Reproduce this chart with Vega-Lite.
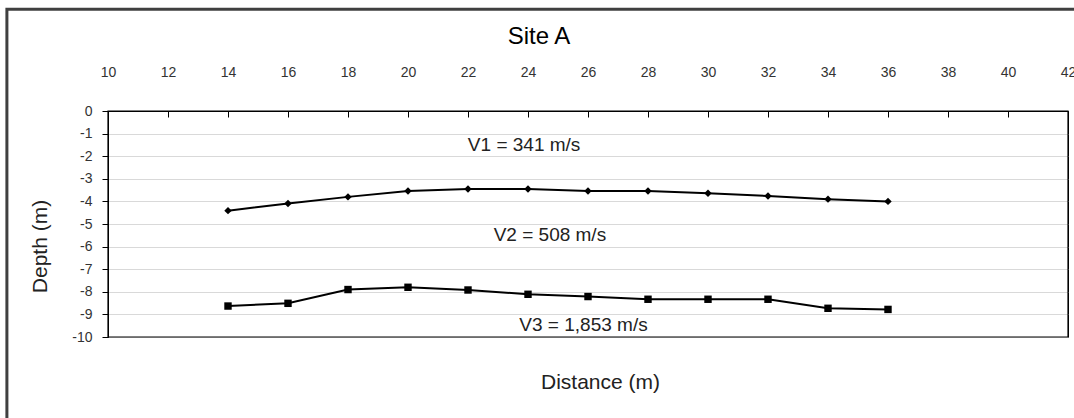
{
  "$schema": "https://vega.github.io/schema/vega-lite/v6.json",
  "width": 960,
  "height": 226,
  "autosize": {"type": "none"},
  "padding": {"left": 108, "top": 111, "right": 6, "bottom": 81},
  "background": "white",
  "config": {
    "font": "Liberation Sans",
    "view": {"stroke": "black", "strokeWidth": 1}
  },
  "title": {
    "text": "Site A",
    "fontSize": 24,
    "fontWeight": "normal",
    "color": "black",
    "anchor": "middle",
    "frame": "group",
    "dx": -49,
    "offset": -41
  },
  "datasets": {
    "lines": [
      {"dist": 14, "depth": -4.41, "series": "V1-V2"},
      {"dist": 16, "depth": -4.09, "series": "V1-V2"},
      {"dist": 18, "depth": -3.8, "series": "V1-V2"},
      {"dist": 20, "depth": -3.54, "series": "V1-V2"},
      {"dist": 22, "depth": -3.45, "series": "V1-V2"},
      {"dist": 24, "depth": -3.45, "series": "V1-V2"},
      {"dist": 26, "depth": -3.54, "series": "V1-V2"},
      {"dist": 28, "depth": -3.54, "series": "V1-V2"},
      {"dist": 30, "depth": -3.64, "series": "V1-V2"},
      {"dist": 32, "depth": -3.76, "series": "V1-V2"},
      {"dist": 34, "depth": -3.9, "series": "V1-V2"},
      {"dist": 36, "depth": -4.0, "series": "V1-V2"},
      {"dist": 14, "depth": -8.63, "series": "V2-V3"},
      {"dist": 16, "depth": -8.51, "series": "V2-V3"},
      {"dist": 18, "depth": -7.9, "series": "V2-V3"},
      {"dist": 20, "depth": -7.8, "series": "V2-V3"},
      {"dist": 22, "depth": -7.92, "series": "V2-V3"},
      {"dist": 24, "depth": -8.11, "series": "V2-V3"},
      {"dist": 26, "depth": -8.21, "series": "V2-V3"},
      {"dist": 28, "depth": -8.33, "series": "V2-V3"},
      {"dist": 30, "depth": -8.33, "series": "V2-V3"},
      {"dist": 32, "depth": -8.33, "series": "V2-V3"},
      {"dist": 34, "depth": -8.73, "series": "V2-V3"},
      {"dist": 36, "depth": -8.78, "series": "V2-V3"}
    ],
    "labels": [
      {"dist": 23.87, "depth": -1.5, "label": "V1 = 341 m/s"},
      {"dist": 24.73, "depth": -5.49, "label": "V2 = 508 m/s"},
      {"dist": 25.85, "depth": -9.47, "label": "V3 = 1,853 m/s"}
    ]
  },
  "layer": [
    {
      "data": {"values": [{}]},
      "mark": {"type": "rect", "fill": null, "fillOpacity": 0, "stroke": "#404040", "strokeWidth": 3, "clip": false},
      "encoding": {
        "x": {"datum": 6.63, "type": "quantitative", "axis": null},
        "x2": {"datum": 45},
        "y": {"datum": 4.5, "type": "quantitative", "axis": null},
        "y2": {"datum": -15}
      }
    },
    {
      "data": {"values": [{}]},
      "mark": {"type": "rect", "fill": null, "fillOpacity": 0, "stroke": "black", "strokeWidth": 1.2, "clip": false},
      "encoding": {
        "x": {"datum": 10, "type": "quantitative", "axis": null},
        "x2": {"datum": 42},
        "y": {"datum": 0, "type": "quantitative", "axis": null},
        "y2": {"datum": -10}
      }
    },
    {
      "data": {"name": "lines"},
      "mark": {"type": "line", "color": "black", "strokeWidth": 2},
      "encoding": {
        "x": {
          "field": "dist",
          "type": "quantitative",
          "scale": {"domain": [10, 42], "nice": false, "zero": false},
          "axis": {
            "orient": "top",
            "values": [10, 12, 14, 16, 18, 20, 22, 24, 26, 28, 30, 32, 34, 36, 38, 40, 42],
            "tickSize": -6,
            "tickColor": "black",
            "domainColor": "black",
            "labelPadding": 38,
            "labelFontSize": 14,
            "labelColor": "#333333",
            "labelFlush": false,
            "grid": false,
            "title": null
          }
        },
        "y": {
          "field": "depth",
          "type": "quantitative",
          "scale": {"domain": [-10, 0], "nice": false, "zero": false},
          "axis": {
            "values": [-10, -9, -8, -7, -6, -5, -4, -3, -2, -1, 0],
            "labelExpr": "datum.value < 0 ? '-' + abs(datum.value) : '' + datum.value",
            "tickSize": 6,
            "tickColor": "black",
            "domainColor": "black",
            "labelPadding": 10,
            "labelFontSize": 14,
            "labelColor": "#333333",
            "grid": true,
            "gridColor": "#d9d9d9",
            "title": "Depth (m)",
            "titleFontSize": 21,
            "titleFontWeight": "normal",
            "titleColor": "#222222",
            "titleAngle": -90,
            "titleX": -68,
            "titleY": 135,
            "titleAlign": "center",
            "titleBaseline": "middle"
          }
        },
        "detail": {"field": "series"}
      }
    },
    {
      "data": {"name": "lines"},
      "mark": {"type": "point", "filled": true, "opacity": 1, "color": "black"},
      "encoding": {
        "x": {"field": "dist", "type": "quantitative", "axis": null},
        "y": {"field": "depth", "type": "quantitative", "axis": null},
        "shape": {
          "field": "series",
          "scale": {"domain": ["V1-V2", "V2-V3"], "range": ["diamond", "square"]},
          "legend": null
        },
        "size": {
          "field": "series",
          "scale": {"domain": ["V1-V2", "V2-V3"], "range": [55, 55]},
          "legend": null
        }
      }
    },
    {
      "data": {"name": "labels"},
      "mark": {"type": "text", "fontSize": 19, "color": "#222222", "align": "center", "baseline": "middle"},
      "encoding": {
        "x": {
          "field": "dist",
          "type": "quantitative",
          "axis": {
            "orient": "bottom",
            "labels": false,
            "ticks": false,
            "domain": false,
            "grid": false,
            "title": "Distance (m)",
            "titleFontSize": 21,
            "titleFontWeight": "normal",
            "titleColor": "#222222",
            "titlePadding": 34,
            "titleX": 492
          }
        },
        "y": {"field": "depth", "type": "quantitative", "axis": null},
        "text": {"field": "label"}
      }
    }
  ],
  "resolve": {"axis": {"x": "independent", "y": "independent"}}
}
